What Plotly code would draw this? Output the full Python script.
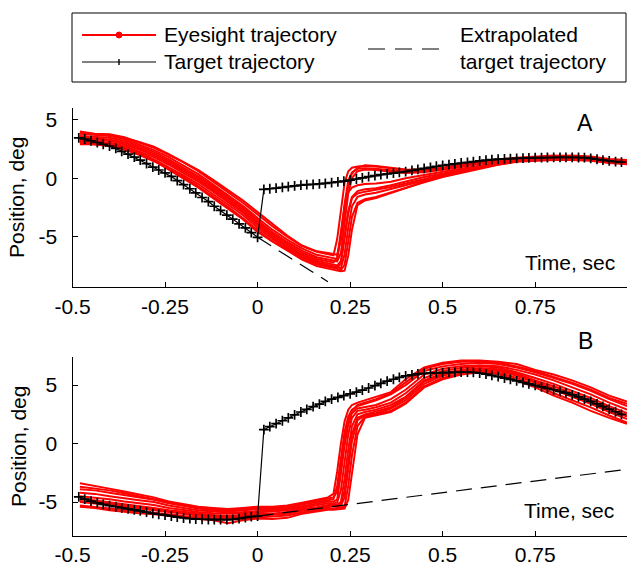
import plotly.graph_objects as go

W, H = 627, 565
FONT = "Liberation Sans, Arial, sans-serif"
FS = 21

# ---- target samples (60 Hz), shared by both panels ----
TARGET_T = [
    -0.483, -0.467, -0.45, -0.433, -0.417, -0.4, -0.383, -0.367, -0.35, -0.333,
    -0.317, -0.3, -0.283, -0.267, -0.25, -0.233, -0.217, -0.2, -0.183, -0.167,
    -0.15, -0.133, -0.117, -0.1, -0.083, -0.067, -0.05, -0.033, -0.017, 0.0,
    0.017, 0.033, 0.05, 0.067, 0.083, 0.1, 0.117, 0.133, 0.15, 0.167,
    0.183, 0.2, 0.217, 0.233, 0.25, 0.267, 0.283, 0.3, 0.317, 0.333,
    0.35, 0.367, 0.383, 0.4, 0.417, 0.433, 0.45, 0.467, 0.483, 0.5,
    0.517, 0.533, 0.55, 0.567, 0.583, 0.6, 0.617, 0.633, 0.65, 0.667,
    0.683, 0.7, 0.717, 0.733, 0.75, 0.767, 0.783, 0.8, 0.817, 0.833,
    0.85, 0.867, 0.883, 0.9, 0.917, 0.933, 0.95, 0.967, 0.983,
]

TARGET_A = [
    3.45, 3.35, 3.2, 3.05, 2.9, 2.75, 2.55, 2.3, 2.05, 1.8,
    1.55, 1.25, 0.95, 0.7, 0.45, 0.15, -0.2, -0.55, -0.9, -1.25,
    -1.65, -2.0, -2.4, -2.75, -3.15, -3.5, -3.9, -4.25, -4.65, -5.05,
    -0.95, -0.9, -0.85, -0.78, -0.72, -0.65, -0.6, -0.55, -0.52, -0.48,
    -0.44, -0.38, -0.32, -0.25, -0.17, -0.07, 0.03, 0.13, 0.22, 0.3,
    0.37, 0.43, 0.49, 0.57, 0.66, 0.75, 0.84, 0.93, 1.02, 1.1,
    1.16, 1.23, 1.3, 1.36, 1.42, 1.48, 1.54, 1.59, 1.63, 1.66,
    1.68, 1.7, 1.72, 1.74, 1.75, 1.76, 1.77, 1.78, 1.78, 1.78,
    1.78, 1.77, 1.76, 1.7, 1.62, 1.55, 1.48, 1.42, 1.38,
]

TARGET_B = [
    -4.55, -4.75, -4.92, -5.07, -5.2, -5.3, -5.4, -5.5, -5.58, -5.67,
    -5.76, -5.86, -5.96, -6.04, -6.12, -6.2, -6.28, -6.36, -6.42, -6.45,
    -6.47, -6.49, -6.5, -6.5, -6.5, -6.48, -6.42, -6.32, -6.25, -6.2,
    1.2, 1.45, 1.7, 1.95, 2.2, 2.45, 2.7, 2.92, 3.15, 3.38,
    3.6, 3.8, 3.95, 4.1, 4.25, 4.4, 4.57, 4.75, 4.95, 5.15,
    5.33, 5.5, 5.66, 5.78, 5.88, 5.95, 6.0, 6.03, 6.05, 6.07,
    6.08, 6.09, 6.1, 6.1, 6.08, 6.02, 5.93, 5.83, 5.72, 5.6,
    5.48, 5.36, 5.22, 5.1, 4.98, 4.85, 4.72, 4.6, 4.46, 4.33,
    4.17, 4.0, 3.8, 3.6, 3.4, 3.18, 2.95, 2.72, 2.5,
]

# ---- extrapolated target (straight continuation after the step) ----
EXTRAP_A_T = [0.0, 0.19]
EXTRAP_A = [-5.05, -8.85]
EXTRAP_B_T = [0.0, 0.998]
EXTRAP_B = [-6.2, -2.2]

# ---- eye position samples, one list per trial ----
EYE_T = [
    -0.48, -0.44, -0.40, -0.36, -0.32, -0.28, -0.24, -0.20, -0.16, -0.12,
    -0.08, -0.04, 0.00, 0.04, 0.08, 0.12, 0.16, 0.19, 0.205, 0.215,
    0.225, 0.235, 0.245, 0.255, 0.27, 0.29, 0.32, 0.36, 0.40, 0.45,
    0.50, 0.55, 0.60, 0.65, 0.70, 0.75, 0.80, 0.85, 0.90, 0.95, 0.998,
]

EYE_A = [
    [4.0, 3.8, 3.75, 3.5, 3.05, 2.6, 2.0, 1.35, 0.6, -0.3,
     -1.2, -2.1, -3.1, -4.1, -5.0, -5.8, -6.3, -6.5, -6.6, -5.2,
     -2.6, -0.4, 0.6, 0.9, 1.0, 1.05, 1.0, 0.85, 0.7, 0.75,
     0.9, 1.15, 1.4, 1.6, 1.75, 1.85, 1.95, 1.9, 1.8, 1.6, 1.5],
    [3.8, 3.7, 3.6, 3.35, 2.9, 2.4, 1.8, 1.1, 0.35, -0.55,
     -1.45, -2.35, -3.4, -4.4, -5.25, -6.0, -6.55, -6.75, -6.85, -6.9,
     -4.9, -2.2, -0.2, 0.5, 0.8, 0.85, 0.8, 0.65, 0.55, 0.6,
     0.75, 1.0, 1.3, 1.5, 1.7, 1.75, 1.8, 1.85, 1.75, 1.55, 1.45],
    [3.6, 3.55, 3.45, 3.2, 2.75, 2.25, 1.6, 0.9, 0.15, -0.7,
     -1.6, -2.5, -3.6, -4.6, -5.45, -6.2, -6.75, -6.95, -7.05, -7.1,
     -6.4, -3.8, -1.3, 0.0, 0.6, 0.75, 0.7, 0.55, 0.45, 0.5,
     0.7, 0.95, 1.25, 1.45, 1.6, 1.7, 1.75, 1.75, 1.7, 1.5, 1.4],
    [3.5, 3.4, 3.3, 3.05, 2.6, 2.1, 1.45, 0.75, 0.0, -0.85,
     -1.75, -2.65, -3.75, -4.75, -5.6, -6.35, -6.9, -7.1, -7.2, -6.8,
     -4.6, -2.4, -1.2, -0.8, -0.6, -0.5, -0.45, -0.3, 0.0, 0.3,
     0.55, 0.8, 1.1, 1.35, 1.55, 1.65, 1.7, 1.7, 1.65, 1.45, 1.35],
    [3.3, 3.3, 3.2, 2.9, 2.45, 1.95, 1.3, 0.6, -0.15, -1.0,
     -1.9, -2.8, -3.9, -4.9, -5.75, -6.5, -7.05, -7.25, -7.35, -7.45,
     -7.1, -5.0, -2.8, -1.6, -1.1, -0.95, -0.85, -0.6, -0.3, 0.1,
     0.4, 0.7, 1.0, 1.3, 1.5, 1.6, 1.65, 1.65, 1.6, 1.4, 1.3],
    [3.2, 3.15, 3.05, 2.75, 2.3, 1.8, 1.15, 0.45, -0.3, -1.15,
     -2.05, -2.95, -4.05, -5.05, -5.9, -6.6, -7.2, -7.4, -7.5, -7.6,
     -7.7, -6.5, -4.2, -2.4, -1.6, -1.4, -1.25, -0.95, -0.6, -0.2,
     0.2, 0.55, 0.9, 1.2, 1.45, 1.55, 1.6, 1.6, 1.55, 1.35, 1.25],
    [3.1, 3.05, 2.95, 2.6, 2.15, 1.6, 0.95, 0.25, -0.5, -1.35,
     -2.25, -3.15, -4.25, -5.2, -6.0, -6.75, -7.35, -7.55, -7.65, -7.75,
     -7.85, -7.4, -5.4, -3.3, -2.1, -1.8, -1.6, -1.2, -0.8, -0.35,
     0.1, 0.45, 0.85, 1.15, 1.4, 1.5, 1.55, 1.55, 1.5, 1.3, 1.2],
    [2.9, 2.9, 2.8, 2.45, 2.0, 1.45, 0.8, 0.1, -0.7, -1.55,
     -2.45, -3.4, -4.45, -5.4, -6.2, -6.95, -7.5, -7.75, -7.85, -7.9,
     -7.95, -7.9, -6.6, -4.4, -2.3, -1.9, -1.7, -1.3, -0.85, -0.3,
     0.15, 0.5, 0.9, 1.2, 1.45, 1.55, 1.6, 1.6, 1.55, 1.35, 1.25],
    [3.9, 3.75, 3.7, 3.45, 3.1, 2.7, 2.05, 1.4, 0.7, -0.15,
     -1.0, -1.9, -2.9, -3.9, -4.9, -5.75, -6.25, -6.4, -6.5, -6.55,
     -5.3, -2.8, -0.6, 0.4, 0.9, 1.1, 1.05, 0.9, 0.75, 0.7,
     0.85, 1.1, 1.35, 1.55, 1.7, 1.8, 1.9, 1.95, 1.85, 1.65, 1.55],
    [3.0, 2.85, 2.75, 2.5, 2.05, 1.5, 0.75, 0.0, -0.8, -1.7,
     -2.6, -3.5, -4.6, -5.4, -6.1, -6.8, -7.3, -7.5, -7.6, -7.65,
     -7.3, -5.3, -3.0, -1.7, -1.3, -1.15, -1.0, -0.75, -0.45, -0.05,
     0.3, 0.65, 0.95, 1.25, 1.5, 1.6, 1.7, 1.7, 1.6, 1.45, 1.35],
]

EYE_B = [
    [-3.4, -3.6, -3.85, -4.1, -4.35, -4.6, -4.95, -5.2, -5.4, -5.5,
     -5.6, -5.5, -5.4, -5.4, -5.3, -5.05, -4.8, -4.6, -4.3, -2.4,
     0.0, 1.9, 2.9, 3.3, 3.5, 3.7, 4.0, 4.4, 5.5, 6.5,
     6.9, 7.1, 7.1, 7.0, 6.8, 6.3, 5.9, 5.4, 4.8, 4.1, 3.6],
    [-3.9, -4.0, -4.2, -4.4, -4.6, -4.8, -5.1, -5.35, -5.55, -5.7,
     -5.8, -5.7, -5.6, -5.6, -5.5, -5.2, -5.0, -4.8, -4.75, -3.6,
     -1.2, 1.0, 2.3, 2.9, 3.2, 3.4, 3.7, 4.2, 5.0, 6.2,
     6.6, 6.8, 6.9, 6.8, 6.5, 6.1, 5.6, 5.1, 4.5, 3.8, 3.2],
    [-4.2, -4.3, -4.5, -4.7, -4.85, -5.0, -5.3, -5.5, -5.7, -5.8,
     -5.9, -5.85, -5.75, -5.7, -5.6, -5.35, -5.15, -4.95, -4.95, -4.8,
     -2.6, -0.2, 1.6, 2.6, 3.0, 3.1, 3.3, 3.8, 4.6, 5.9,
     6.4, 6.6, 6.7, 6.6, 6.3, 5.9, 5.4, 4.8, 4.2, 3.5, 2.9],
    [-4.5, -4.6, -4.75, -4.95, -5.1, -5.25, -5.5, -5.7, -5.85, -5.95,
     -6.0, -5.95, -5.9, -5.8, -5.7, -5.5, -5.3, -5.1, -5.1, -5.05,
     -4.0, -1.6, 0.8, 2.2, 2.8, 2.9, 3.1, 3.5, 4.3, 5.6,
     6.2, 6.45, 6.6, 6.5, 6.1, 5.6, 5.1, 4.5, 3.9, 3.2, 2.6],
    [-4.7, -4.85, -5.0, -5.2, -5.35, -5.5, -5.7, -5.85, -6.0, -6.1,
     -6.2, -6.1, -6.0, -6.0, -5.85, -5.6, -5.45, -5.25, -5.2, -5.2,
     -5.0, -3.0, -0.5, 1.5, 2.5, 2.7, 2.9, 3.3, 4.0, 5.4,
     6.0, 6.3, 6.45, 6.35, 6.0, 5.4, 4.9, 4.3, 3.7, 3.0, 2.4],
    [-5.0, -5.1, -5.25, -5.4, -5.55, -5.7, -5.9, -6.0, -6.15, -6.25,
     -6.35, -6.25, -6.15, -6.1, -6.0, -5.75, -5.55, -5.4, -5.35, -5.35,
     -5.3, -4.6, -2.2, 0.2, 2.0, 2.4, 2.6, 3.0, 3.7, 5.1,
     5.8, 6.15, 6.3, 6.2, 5.8, 5.2, 4.6, 4.0, 3.4, 2.7, 2.1],
    [-5.3, -5.4, -5.55, -5.7, -5.8, -5.9, -6.05, -6.2, -6.3, -6.4,
     -6.5, -6.4, -6.3, -6.25, -6.15, -5.9, -5.7, -5.55, -5.55, -5.5,
     -5.5, -5.4, -3.6, -1.0, 1.5, 2.3, 2.5, 2.8, 3.5, 4.9,
     5.6, 6.0, 6.2, 6.05, 5.6, 5.0, 4.3, 3.7, 3.1, 2.4, 1.8],
    [-5.4, -5.5, -5.7, -5.85, -5.95, -6.05, -6.2, -6.35, -6.45, -6.55,
     -6.8, -6.55, -6.4, -6.45, -6.35, -6.0, -5.8, -5.65, -5.65, -5.6,
     -5.6, -5.55, -4.8, -2.4, 0.8, 2.2, 2.4, 2.7, 3.4, 4.8,
     5.5, 5.9, 6.1, 5.95, 5.4, 4.8, 4.1, 3.5, 2.8, 2.2, 1.7],
    [-3.7, -3.85, -4.0, -4.25, -4.5, -4.75, -5.05, -5.3, -5.5, -5.6,
     -5.7, -5.6, -5.5, -5.5, -5.4, -5.1, -4.9, -4.7, -4.6, -4.1,
     -1.8, 0.5, 2.0, 2.8, 3.3, 3.5, 3.8, 4.3, 5.2, 6.4,
     6.8, 7.0, 7.0, 6.9, 6.6, 6.2, 5.7, 5.2, 4.6, 3.9, 3.4],
    [-4.9, -5.0, -5.1, -5.3, -5.45, -5.6, -5.8, -5.95, -6.1, -6.2,
     -6.3, -6.2, -6.1, -6.05, -5.95, -5.7, -5.5, -5.35, -5.3, -5.25,
     -5.2, -4.0, -1.5, 0.8, 2.2, 2.5, 2.75, 3.1, 3.9, 5.3,
     5.9, 6.2, 6.35, 6.3, 5.9, 5.3, 4.7, 4.1, 3.5, 2.85, 2.3],
]

X_TICKS = [-0.5, -0.25, 0, 0.25, 0.5, 0.75]
X_TICK_TEXT = ["-0.5", "-0.25", "0", "0.25", "0.5", "0.75"]
Y_TICKS = [-5, 0, 5]
Y_TICK_TEXT = ["-5", "0", "5"]

RED = "#ff0000"


def px(x):
    return x / W


def py(y):
    return 1 - y / H


fig = go.Figure()

panels = [
    ("x", "y", EYE_A, TARGET_A, EXTRAP_A_T, EXTRAP_A),
    ("x2", "y2", EYE_B, TARGET_B, EXTRAP_B_T, EXTRAP_B),
]
for xa, ya, eyes, target, ext_t, ext_v in panels:
    for trial in eyes:
        fig.add_trace(go.Scatter(
            x=EYE_T, y=trial, mode="lines", xaxis=xa, yaxis=ya,
            line=dict(color=RED, width=2), showlegend=False,
        ))
    fig.add_trace(go.Scatter(
        x=ext_t, y=ext_v, mode="lines", xaxis=xa, yaxis=ya,
        line=dict(color="black", width=1.2, dash="16px,9px"), showlegend=False,
    ))
    fig.add_trace(go.Scatter(
        x=TARGET_T, y=target, mode="lines+markers", xaxis=xa, yaxis=ya,
        line=dict(color="black", width=1.2),
        marker=dict(symbol="cross-thin", size=7, line=dict(color="black", width=1.7)),
        showlegend=False,
    ))

axis_common = dict(
    showline=True, linecolor="black", linewidth=1, mirror=False,
    ticks="inside", ticklen=5, tickcolor="black", tickwidth=1,
    showgrid=False, zeroline=False, automargin=False,
    tickfont=dict(family=FONT, size=FS, color="black"),
)
x_dom = [72.5 / W, 1.0]
fig.update_layout(
    width=W, height=H,
    margin=dict(l=0, r=0, t=0, b=0),
    paper_bgcolor="white", plot_bgcolor="white",
    showlegend=False,
    xaxis=dict(axis_common, domain=x_dom, range=[-0.5, 0.998], anchor="y",
               tickvals=X_TICKS, ticktext=X_TICK_TEXT, ticklabelstandoff=1),
    yaxis=dict(axis_common, domain=[py(287), py(108)], range=[-9.3, 6.0], anchor="x",
               tickvals=Y_TICKS, ticktext=Y_TICK_TEXT, ticklabelstandoff=10),
    xaxis2=dict(axis_common, domain=x_dom, range=[-0.5, 0.998], anchor="y2",
                tickvals=X_TICKS, ticktext=X_TICK_TEXT, ticklabelstandoff=0),
    yaxis2=dict(axis_common, domain=[py(536), py(357)], range=[-7.9, 7.4], anchor="x2",
                tickvals=Y_TICKS, ticktext=Y_TICK_TEXT, ticklabelstandoff=10),
)

text_font = dict(family=FONT, size=FS, color="black")
annotations = [
    dict(x=px(17), y=py(198), text="Position, deg", textangle=-90),
    dict(x=px(18), y=py(447), text="Position, deg", textangle=-90),
    dict(x=px(570), y=py(263), text="Time, sec"),
    dict(x=px(569), y=py(510), text="Time, sec"),
    dict(x=px(585), y=py(123), text="A", font=dict(family=FONT, size=23, color="black")),
    dict(x=px(585), y=py(341), text="B", font=dict(family=FONT, size=23, color="black")),
]
for a in annotations:
    a.setdefault("font", text_font)
    fig.add_annotation(xref="paper", yref="paper", showarrow=False,
                       xanchor="center", yanchor="middle", **a)

# legend box drawn in page coordinates
legend_items = [
    (px(162), py(35), "Eyesight trajectory"),
    (px(162), py(62), "Target trajectory"),
    (px(458), py(35), "Extrapolated"),
    (px(458), py(62), "target trajectory"),
]
for x, y, t in legend_items:
    fig.add_annotation(xref="paper", yref="paper", x=x, y=y, text=t, showarrow=False,
                       xanchor="left", yanchor="middle", font=text_font)

shapes = [
    dict(type="rect", x0=px(72), x1=px(626), y0=py(82), y1=py(13),
         line=dict(color="black", width=1), fillcolor="rgba(0,0,0,0)"),
    dict(type="line", x0=px(82), x1=px(156), y0=py(35), y1=py(35),
         line=dict(color=RED, width=2)),
    dict(type="circle", x0=px(116), x1=px(122), y0=py(38), y1=py(32),
         line=dict(color=RED, width=1), fillcolor=RED),
    dict(type="line", x0=px(82), x1=px(156), y0=py(62), y1=py(62),
         line=dict(color="black", width=1.2)),
    dict(type="line", x0=px(119), x1=px(119), y0=py(65), y1=py(59),
         line=dict(color="black", width=1.4)),
    dict(type="line", x0=px(368), x1=px(440), y0=py(49), y1=py(49),
         line=dict(color="black", width=1.2, dash="17px,10px")),
]
for s in shapes:
    fig.add_shape(xref="paper", yref="paper", **s)

fig.write_html("out.html")
